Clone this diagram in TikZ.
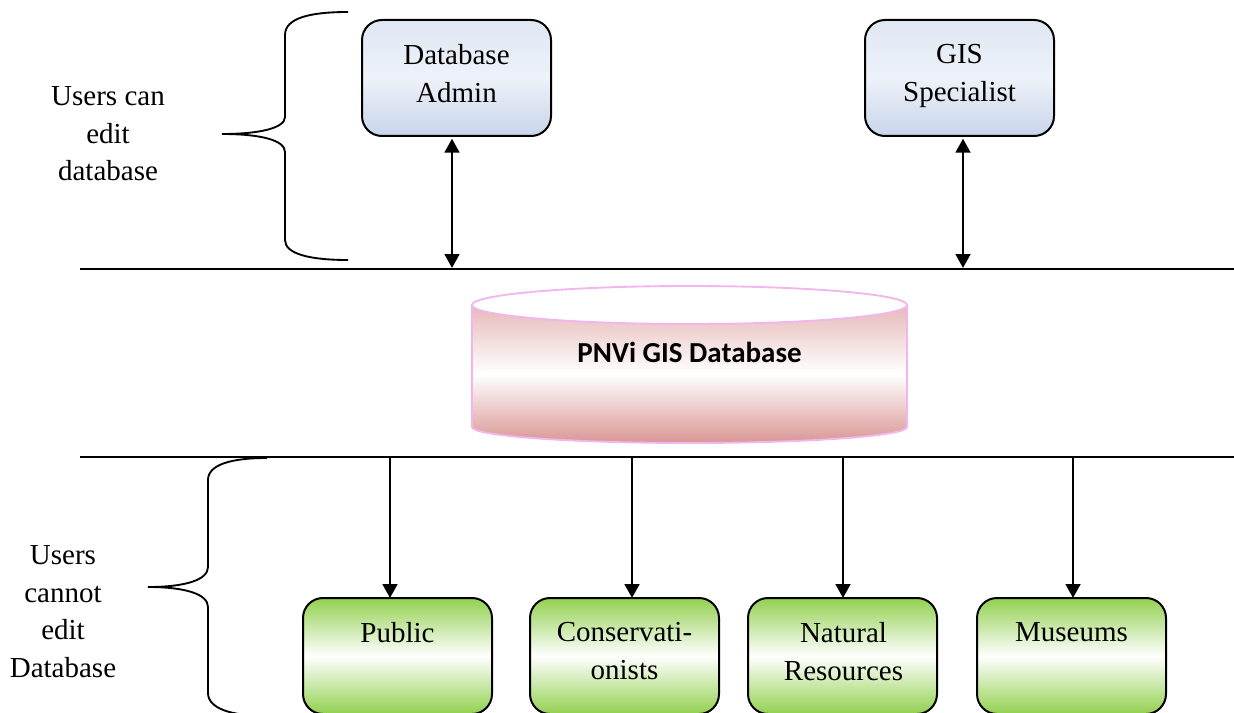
\documentclass[tikz,border=0pt]{standalone}
\usepackage{fontspec}
\setmainfont{Liberation Serif}
\newfontfamily\dbfont{Carlito}
\usetikzlibrary{arrows.meta}

\definecolor{bluetop}{HTML}{DFE7F3}
\definecolor{bluemid}{HTML}{EEF2F9}
\definecolor{bluebot}{HTML}{C8D5EA}
\definecolor{leaf}{HTML}{92D050}
\definecolor{rosetop}{HTML}{E6B9B8}
\definecolor{rosebot}{HTML}{D99694}
\definecolor{roseedge}{HTML}{F2B6EE}

\begin{document}
\begin{tikzpicture}[x=0.75pt,y=-0.75pt,
  every node/.style={inner sep=0pt, outer sep=0pt},
  txt/.style={font=\fontsize{21.75}{28.3}\selectfont, align=center, anchor=north},
  editbox/.style={draw=black, line width=1.5pt, rounded corners=15pt,
    minimum width=141.75pt, minimum height=87pt, anchor=north west,
    top color=bluetop, bottom color=bluebot, middle color=bluemid},
  viewbox/.style={draw=black, line width=1.5pt, rounded corners=15pt,
    minimum width=141.75pt, minimum height=87pt, anchor=north west,
    top color=leaf, bottom color=leaf, middle color=white},
  rule/.style={line width=1.7pt},
  flow/.style={line width=2.1pt, -{Triangle[length=10.5pt,width=11pt]}},
  both/.style={line width=2.1pt, {Triangle[length=10.5pt,width=11pt]}-{Triangle[length=10.5pt,width=11pt]}},
  brace/.style={line width=1.4pt}
]
\useasboundingbox (0,0) rectangle (1234,713);
\clip (0,0) rectangle (1234,713);

% separating rules
\coordinate (upL) at (80,269);
\coordinate (upR) at (1234,269);
\coordinate (loL) at (80,457);
\coordinate (loR) at (1234,457);
\draw[rule] (upL) -- (upR);
\draw[rule] (loL) -- (loR);

% editing users
\node[editbox] (dba) at (362,20) {};
\node[editbox] (gis) at (865,20) {};
\node[txt] (dbat) at (456.5,44.5) {Database\\Admin};
\node[txt] (gist) at (959.5,44.5) {GIS\\Specialist};

\coordinate (dbaL) at (452,268);
\coordinate (gisL) at (963,268);
\draw[both, shorten <=2pt] (dba.south -| dbaL) -- (dbaL);
\draw[both, shorten <=2pt] (gis.south -| gisL) -- (gisL);

% database cylinder
\path[top color=rosetop, bottom color=rosebot, middle color=white]
  (472,305) -- (472,427) arc[start angle=180, end angle=0, x radius=217.5, y radius=16]
  -- (907,305) -- cycle;
\draw[roseedge, line width=1.4pt]
  (472,305) -- (472,427) arc[start angle=180, end angle=0, x radius=217.5, y radius=16]
  -- (907,305);
\draw[roseedge, line width=1.4pt, fill=white] (689.5,305) ellipse[x radius=217.5, y radius=19];
\node[font=\dbfont\bfseries\fontsize{21.75}{26}\selectfont, anchor=base] (db) at (689.5,362) {PNVi GIS Database};

% read-only users
\node[viewbox] (pub) at (303,598) {};
\node[viewbox] (con) at (530,598) {};
\node[viewbox] (nat) at (748,598) {};
\node[viewbox] (mus) at (977,598) {};
\node[txt] (pubt) at (397.5,622.5) {Public};
\node[txt] (cont) at (624.5,622.5) {Conservati-\\onists};
\node[txt] (natt) at (843.5,622.5) {Natural\\Resources};
\node[txt] (must) at (1071.5,622.5) {Museums};

\coordinate (pubL) at (390,457);
\coordinate (conL) at (632,457);
\coordinate (natL) at (843,457);
\coordinate (musL) at (1073,457);
\draw[flow] (pubL) -- (pubL |- pub.north);
\draw[flow] (conL) -- (conL |- con.north);
\draw[flow] (natL) -- (natL |- nat.north);
\draw[flow] (musL) -- (musL |- mus.north);

% group labels and braces
\node[txt] (canedit) at (108,86.5) {Users can\\edit\\database};
\node[txt] (noedit) at (63,545.5) {Users\\cannot\\edit\\Database};

\draw[brace] (348,12) .. controls (310,12) and (285,18) .. (285,35) -- (285,117)
  .. controls (285,128) and (260,134) .. (222,134)
  .. controls (260,134) and (285,140) .. (285,152) -- (285,240)
  .. controls (285,254) and (310,260) .. (348,260);
\draw[brace] (267,458) .. controls (230,458) and (208,465) .. (208,480) -- (208,567)
  .. controls (208,580) and (185,587) .. (148,587)
  .. controls (185,587) and (208,594) .. (208,607) -- (208,693)
  .. controls (208,708) and (230,716) .. (267,716);
\end{tikzpicture}
\end{document}
